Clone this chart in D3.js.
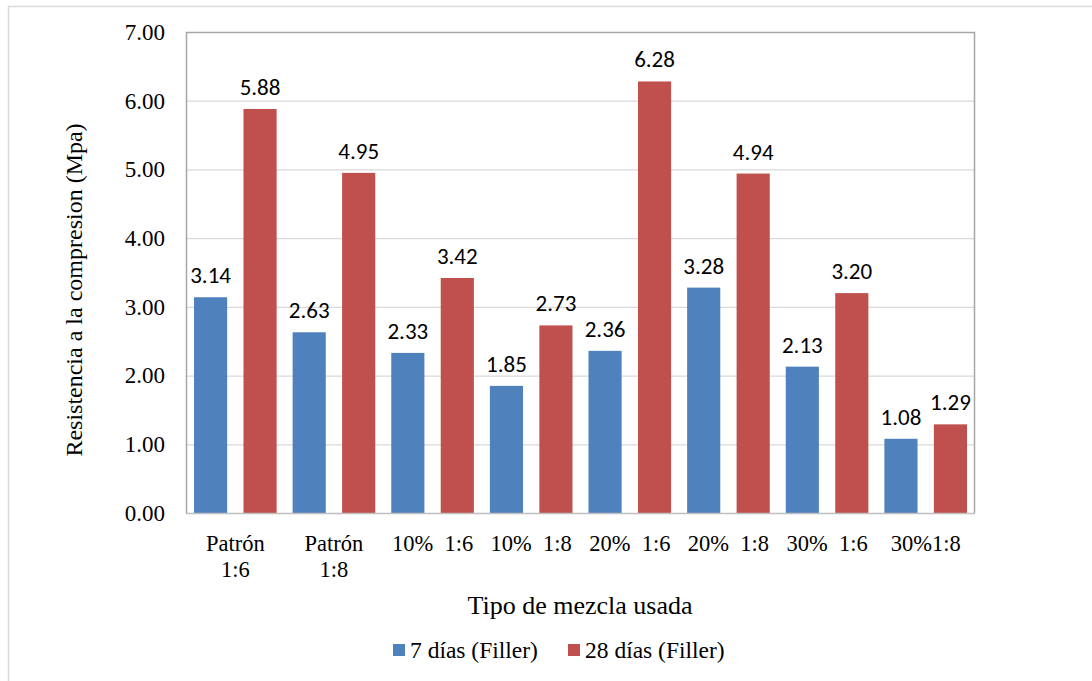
<!DOCTYPE html>
<html><head><meta charset="utf-8">
<script src="https://cdn.jsdelivr.net/npm/d3@7"></script>
<style>body{margin:0;background:#fff}svg{display:block}</style>
</head><body>
<script>
const categories = [["Patrón","1:6"],["Patrón","1:8"],["10%  1:6"],["10%  1:8"],["20%  1:6"],["20%  1:8"],["30%  1:6"],["30%1:8"]];
const seriesNames = ["7 días (Filler)","28 días (Filler)"];
const dias7 = [3.14,2.63,2.33,1.85,2.36,3.28,2.13,1.08];
const dias28 = [5.88,4.95,3.42,2.73,6.28,4.94,3.20,1.29];
const yTicks = [0,1,2,3,4,5,6,7];
const colors = ["#4f81bd","#c0504d"];

const SERIF='"Liberation Serif"', LBL='"Carlito"';
const W=1092,H=681;
const svg=d3.select("body").append("svg").attr("width",W).attr("height",H);
svg.append("path").attr("d",`M8.5,${H}V6.5H${W}`).attr("fill","none").attr("stroke","#d9d9d9").attr("stroke-width",1.5);

const L=186,R=975,T=32,B=513;
const x=d3.scaleBand().domain(d3.range(categories.length)).range([L,R]).paddingInner(0).paddingOuter(0);
const y=d3.scaleLinear().domain([0,7]).range([B,T]);
const inner=d3.scaleBand().domain([0,1]).range([8,x.bandwidth()-8]).paddingInner(0.33);

svg.append("g").selectAll("line").data(yTicks.slice(1,-1)).join("line")
 .attr("x1",L).attr("x2",R).attr("y1",d=>y(d)+0.5).attr("y2",d=>y(d)+0.5).attr("stroke","#d9d9d9").attr("stroke-width",1.3);

const data=[dias7,dias28];
data.forEach((vals,s)=>{
  const g=svg.append("g");
  g.selectAll("rect").data(vals).join("rect")
   .attr("x",(d,i)=>x(i)+inner(s)).attr("width",inner.bandwidth())
   .attr("y",d=>y(d)).attr("height",d=>B-y(d)).attr("fill",colors[s]);
  g.selectAll("text").data(vals).join("text")
   .attr("x",(d,i)=>x(i)+inner(s)+inner.bandwidth()/2).attr("y",d=>y(d)-14)
   .attr("text-anchor","middle").style("font-family",LBL).style("font-size","23px").style("fill","#000").text(d=>d.toFixed(2));
});

svg.append("path").attr("d",`M${L+0.5},${B}V${T+0.5}H${R-0.5}V${B}`).attr("fill","none").attr("stroke","#a6a6a6").attr("stroke-width",1.5);
svg.append("line").attr("x1",L).attr("x2",R).attr("y1",B+0.5).attr("y2",B+0.5).attr("stroke","#bfbfbf").attr("stroke-width",1.5);

const yAxis=d3.axisLeft(y).tickValues(yTicks).tickFormat(d3.format(".2f")).tickSize(0).tickPadding(21);
const ya=svg.append("g").attr("transform",`translate(${L},0)`).call(yAxis);
ya.select(".domain").remove();
ya.selectAll("text").style("font-family",SERIF).style("font-size","23px").style("fill","#000");

const xl=svg.append("g");
categories.forEach((c,i)=>{
  const t=xl.append("text").attr("x",x(i)+x.bandwidth()/2).attr("y",551).attr("text-anchor","middle")
   .style("font-family",SERIF).style("font-size","22.5px").style("fill","#000").style("white-space","pre");
  c.forEach((line,j)=>t.append("tspan").attr("x",x(i)+x.bandwidth()/2).attr("dy",j?26:0).text(line));
});

svg.append("text").attr("transform","translate(82,290) rotate(-90)").attr("text-anchor","middle")
 .style("font-family",SERIF).style("font-size","24px").text("Resistencia a la compresion (Mpa)");
svg.append("text").attr("x",580).attr("y",614).attr("text-anchor","middle")
 .style("font-family",SERIF).style("font-size","26px").text("Tipo de mezcla usada");

const lg=svg.append("g");
const lx=[393,568];
seriesNames.forEach((n,i)=>{
  lg.append("rect").attr("x",lx[i]).attr("y",644).attr("width",12).attr("height",12).attr("fill",colors[i]);
  lg.append("text").attr("x",lx[i]+17).attr("y",658).style("font-family",SERIF).style("font-size","23.5px").text(n);
});
</script>
</body></html>
